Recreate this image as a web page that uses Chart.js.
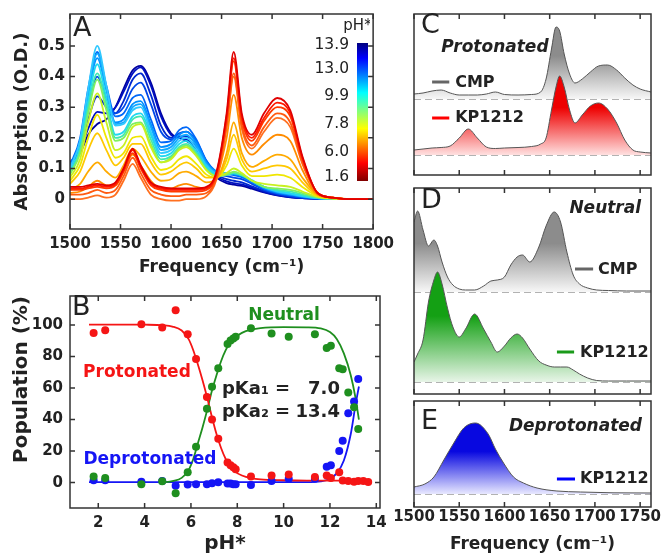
<!DOCTYPE html>
<html>
<head>
<meta charset="utf-8">
<script src="https://cdn.jsdelivr.net/npm/chart.js@4.4.0/dist/chart.umd.min.js"></script>
<style>
body { margin: 0; background: #fff; }
#wrap { position: relative; width: 667px; height: 556px; overflow: hidden; }
canvas { position: absolute; }
</style>
</head>
<body>
<div id="wrap">
<canvas id="cA" width="400" height="282" style="left:0;top:0"></canvas>
<canvas id="cBar" width="80" height="200" style="left:290px;top:0"></canvas>
<canvas id="cB" width="400" height="276" style="left:0;top:280px"></canvas>
<canvas id="cC" width="287" height="180" style="left:380px;top:0"></canvas>
<canvas id="cD" width="287" height="216" style="left:380px;top:180px"></canvas>
<canvas id="cE" width="287" height="160" style="left:380px;top:396px"></canvas>
</div>
<script>
// ---- panel A: spectra at each pH* (absorbance, O.D.) ----
const freq = [1500,1510,1518,1527,1536,1545,1553,1562,1570,1580,1590,1600,1608,1615,1625,1635,1645,1655,1662,1670,1680,1692,1705,1718,1730,1745,1760,1780,1800];

const abs_1_6  = [.04,.04,.045,.05,.045,.055,.10,.165,.11,.055,.04,.035,.035,.035,.035,.04,.09,.28,.48,.28,.21,.28,.33,.29,.14,.02,.005,0,0];
const abs_2_2  = [.035,.035,.04,.045,.04,.05,.095,.16,.105,.05,.035,.03,.03,.03,.03,.035,.085,.27,.46,.27,.20,.265,.315,.28,.135,.02,.005,0,0];
const abs_3_8  = [.03,.03,.035,.04,.035,.045,.09,.15,.10,.045,.03,.025,.025,.025,.025,.03,.08,.26,.45,.26,.19,.255,.30,.27,.13,.02,.005,0,0];
const abs_4_8  = [.015,.015,.02,.03,.02,.03,.075,.135,.085,.03,.015,.01,.01,.015,.015,.02,.07,.24,.41,.24,.175,.235,.28,.25,.12,.02,.005,0,0];
const abs_5_4  = [0,0,.005,.012,.005,.015,.06,.115,.07,.015,0,-.005,-.005,0,0,.01,.065,.235,.40,.23,.165,.22,.265,.235,.115,.02,.005,0,0];
const abs_6_0  = [.02,.025,.04,.06,.045,.045,.09,.145,.11,.06,.035,.035,.045,.05,.04,.035,.07,.20,.34,.20,.145,.18,.21,.19,.095,.015,.005,0,0];
const abs_6_4  = [.03,.05,.09,.12,.09,.07,.11,.165,.14,.09,.06,.065,.085,.09,.075,.055,.065,.15,.25,.15,.105,.125,.145,.13,.07,.015,.005,0,0];
const abs_6_9  = [.05,.09,.16,.215,.16,.11,.135,.18,.18,.12,.08,.09,.11,.12,.10,.07,.07,.13,.21,.13,.09,.10,.11,.10,.055,.012,.004,0,0];
const abs_7_1  = [.06,.11,.20,.275,.20,.135,.15,.20,.205,.14,.095,.105,.13,.14,.115,.08,.07,.11,.165,.11,.075,.075,.08,.07,.04,.01,.003,0,0];
const abs_7_4  = [.07,.13,.25,.345,.25,.16,.175,.235,.245,.17,.12,.13,.16,.17,.14,.095,.075,.085,.10,.085,.06,.05,.045,.04,.025,.008,.002,0,0];
const abs_7_9  = [.08,.15,.28,.39,.29,.19,.20,.245,.25,.18,.12,.135,.165,.175,.145,.095,.075,.08,.09,.08,.06,.04,.035,.03,.02,.006,.002,0,0];
const abs_8_2  = [.085,.16,.30,.41,.31,.20,.21,.26,.27,.195,.13,.14,.17,.18,.15,.10,.078,.08,.085,.078,.06,.04,.03,.025,.015,.005,.002,0,0];
const abs_8_9  = [.09,.17,.32,.44,.33,.21,.22,.27,.28,.21,.14,.15,.18,.19,.155,.105,.08,.08,.085,.078,.06,.04,.028,.02,.012,.004,.001,0,0];
const abs_9_9  = [.10,.19,.36,.50,.37,.24,.245,.29,.30,.22,.15,.16,.19,.20,.165,.11,.085,.085,.085,.08,.062,.04,.025,.018,.01,.003,.001,0,0];
const abs_10_7 = [.10,.19,.35,.475,.36,.245,.25,.30,.31,.235,.16,.17,.20,.21,.175,.115,.088,.085,.083,.078,.06,.038,.024,.016,.009,.003,.001,0,0];
const abs_11_9 = [.105,.19,.34,.46,.355,.25,.26,.31,.32,.245,.17,.18,.21,.22,.185,.12,.09,.085,.082,.076,.058,.036,.022,.015,.008,.003,.001,0,0];
const abs_12_5 = [.11,.20,.36,.48,.37,.27,.28,.33,.34,.26,.185,.19,.225,.235,.195,.125,.09,.082,.078,.072,.055,.034,.02,.013,.007,.002,.001,0,0];
const abs_13_0 = [.11,.18,.30,.40,.33,.28,.30,.36,.38,.31,.22,.195,.215,.22,.19,.125,.085,.075,.07,.065,.05,.03,.018,.01,.005,.002,0,0,0];
const abs_13_4 = [.115,.17,.26,.335,.30,.28,.32,.39,.41,.34,.24,.20,.205,.205,.18,.12,.08,.065,.06,.055,.042,.027,.015,.008,.004,.001,0,0,0];
const abs_13_7 = [.12,.16,.23,.285,.28,.30,.35,.41,.43,.37,.27,.21,.20,.195,.17,.115,.075,.058,.052,.048,.038,.024,.013,.007,.003,.001,0,0,0];
const abs_13_9 = [.12,.15,.21,.245,.26,.30,.36,.42,.435,.38,.28,.215,.20,.19,.165,.11,.07,.052,.047,.043,.034,.022,.012,.006,.003,.001,0,0,0];

const spectra = [abs_1_6, abs_2_2, abs_3_8, abs_4_8, abs_5_4, abs_6_0, abs_6_4, abs_6_9, abs_7_1, abs_7_4, abs_7_9,
                 abs_8_2, abs_8_9, abs_9_9, abs_10_7, abs_11_9, abs_12_5, abs_13_0, abs_13_4, abs_13_7, abs_13_9];
const spectraColors = ['#e00000','#ff1a00','#ff3a00','#ff5a10','#ff7020','#ff8c00','#ffaa00','#ffc800','#f0e600','#c8f020','#80f060',
                       '#40e8b0','#20d8f0','#30c8ff','#10a8ff','#0090ff','#0068f8','#0048e8','#0028d0','#0010c0','#0000a0'];

const freqTicksA = [1500,1550,1600,1650,1700,1750,1800];
const absTicks = [0,0.1,0.2,0.3,0.4,0.5];
const barTickLabels = ['1.6','6.0','7.8','9.9','13.0','13.9'];
const barTickPos = [0.029,0.21,0.413,0.616,0.81,0.985];

// ---- panel B: populations vs pH* ----
const phPoints = [1.8,2.3,3.86,4.76,5.34,5.86,6.22,6.69,6.91,7.18,7.58,7.71,7.83,7.93,8.59,9.48,10.22,11.35,11.86,12.04,12.4,12.55,12.79,13.04,13.22,13.44,13.65];
const protonated   = [95,96.7,100.4,98.4,109.3,94.2,78.4,54.4,40,27.8,12.8,11.1,9.7,8.5,3.9,4.5,5.2,3.5,4.5,2.9,6.6,1.4,1,0.5,1,1,0.4];
const neutral      = [3.9,2.9,-1,0.8,-6.8,6.6,22.7,46.8,60.8,72.6,88,90.1,91.5,92.6,97.9,94.6,92.6,94.2,85.4,86.8,72.6,72,57.1,47.8,34,null,null];
const deprotonated = [1.5,1.5,0.5,1,-2,-1.2,-1,-1,-0.4,0.3,-0.5,-0.6,-1,-1,-1.5,1,2.5,2.5,10,11,20,26.6,44,51.5,65.8,null,null];

const phFit = [1.6,3,4,4.8,5.2,5.6,5.9,6.1,6.3,6.5,6.7,6.9,7.1,7.3,7.5,7.7,7.9,8.2,8.6,9,10,11,11.6,12,12.3,12.6,12.9,13.1,13.25];
const protFit = [100.3,100.3,100.2,99.8,99,96.5,91,84,75,65,54,42,31,22,15,10,7,4.5,2.8,2,1.5,1.3,1.3,1.3,1.3,1.3,1.3,1.3,1.3];
const neutFit = [null,null,null,0,1,3,8,15,25,35,46,58,68,77,84,89,92,95,97,98,98.6,98.5,97.8,95.5,91,82,68,54,40];
const deprFit = [0.3,0.3,0.3,0.3,0.3,0.3,0.3,0.3,0.3,0.3,0.3,0.3,0.3,0.3,0.3,0.3,0.3,0.3,0.3,0.3,0.3,0.3,0.8,2.5,6,14,31,49,61];

const phTicks = [2,4,6,8,10,12,14];
const popTicks = [0,20,40,60,80,100];

// ---- panels C, D, E: component spectra (normalised, each trace above its own baseline) ----
const freqTicksR = [1500,1550,1600,1650,1700,1750];

const cFreq = [1500,1510,1520,1530,1540,1550,1560,1570,1580,1590,1600,1615,1630,1640,1646,1652,1657,1661,1666,1672,1678,1686,1695,1704,1714,1724,1733,1742,1750,1762];
const cKP   = [.05,.06,.07,.075,.09,.17,.26,.17,.08,.065,.07,.075,.085,.11,.17,.45,.68,.79,.68,.45,.32,.40,.49,.52,.46,.32,.15,.05,.03,.02];
const cCMP  = [.05,.06,.08,.09,.06,.04,.04,.04,.05,.07,.045,.04,.045,.07,.20,.50,.72,.68,.45,.25,.16,.20,.27,.33,.34,.29,.21,.14,.10,.07];

const dFreq = [1500,1504,1510,1516,1522,1526,1531,1537,1543,1550,1557,1567,1577,1585,1592,1600,1607,1614,1620,1628,1638,1646,1655,1662,1669,1676,1683,1692,1702,1715,1735,1762];
const dKP   = [.20,.28,.42,.80,1.02,1.10,.98,.74,.55,.45,.53,.68,.53,.40,.30,.36,.44,.48,.44,.33,.21,.17,.15,.15,.15,.12,.08,.04,.015,.01,.01,.01];
const dCMP  = [.70,.81,.62,.46,.52,.46,.30,.15,.07,.03,.02,.02,.06,.11,.12,.15,.27,.35,.37,.30,.45,.66,.80,.70,.40,.17,.08,.04,.02,.015,.01,.01];

const eFreq = [1500,1512,1522,1533,1544,1555,1568,1582,1590,1599,1610,1621,1636,1658,1684,1720,1762];
const eKP   = [.07,.10,.17,.34,.51,.66,.71,.60,.45,.31,.17,.11,.06,.03,.02,.012,.01];

const cmpOffsetC = 0.56;
const cmpOffsetD = 0.90;

// ---------------------------------------------------------------
Chart.defaults.font.family = 'DejaVu Sans';
Chart.defaults.color = '#222';
const tickFont = { family: 'DejaVu Sans', size: 15, weight: 'bold' };
const ink = '#222';
const noGrid = { display: false, drawTicks: false };

// box round the plot area with short inward ticks on every side
Chart.register({
  id: 'frame',
  afterDatasetsDraw(chart, args, opts) {
    const a = chart.chartArea, ctx = chart.ctx, len = 5;
    ctx.save();
    ctx.strokeStyle = '#333';
    ctx.lineWidth = 1.5;
    ctx.strokeRect(a.left, a.top, a.right - a.left, a.bottom - a.top);
    ctx.beginPath();
    if (opts.x) chart.scales.x.ticks.forEach(t => {
      const p = chart.scales.x.getPixelForValue(t.value);
      ctx.moveTo(p, a.bottom); ctx.lineTo(p, a.bottom - len);
      ctx.moveTo(p, a.top); ctx.lineTo(p, a.top + len);
    });
    if (opts.y) chart.scales.y.ticks.forEach(t => {
      const p = chart.scales.y.getPixelForValue(t.value);
      ctx.moveTo(a.left, p); ctx.lineTo(a.left + len, p);
      ctx.moveTo(a.right, p); ctx.lineTo(a.right - len, p);
    });
    ctx.stroke();
    ctx.restore();
  }
});

// text and legend glyphs placed in data coordinates
function notes(list) {
  return {
    id: 'notes',
    afterDraw(chart) {
      const ctx = chart.ctx, sx = chart.scales.x, sy = chart.scales.y;
      list.forEach(n => {
        ctx.save();
        const y = sy.getPixelForValue(n.y) + (n.dy || 0);
        if (n.line) {
          ctx.strokeStyle = n.color; ctx.lineWidth = 3;
          ctx.beginPath();
          ctx.moveTo(sx.getPixelForValue(n.line[0]), y);
          ctx.lineTo(sx.getPixelForValue(n.line[1]), y);
          ctx.stroke();
        } else {
          ctx.font = n.font;
          ctx.fillStyle = n.color || ink;
          ctx.textAlign = n.align || 'left';
          ctx.textBaseline = 'middle';
          ctx.fillText(n.text, sx.getPixelForValue(n.x) + (n.dx || 0), y);
        }
        ctx.restore();
      });
    }
  };
}

const setTicks = arr => s => { s.ticks = arr.map(v => ({ value: v })); };
const pts = (xs, ys, off = 0) => xs.map((x, i) => ({ x: x, y: ys[i] === null ? null : ys[i] + off }));

// ---- A ----
new Chart(document.getElementById('cA'), {
  type: 'line',
  data: {
    datasets: spectra.map((s, i) => ({
      data: pts(freq, s),
      borderColor: spectraColors[i],
      borderWidth: 1.8,
      pointRadius: 0,
      cubicInterpolationMode: 'monotone',
      fill: false
    }))
  },
  options: {
    responsive: false, animation: false, devicePixelRatio: 1,
    layout: { padding: { left: 0, right: 20, top: 13, bottom: 0 } },
    plugins: { legend: { display: false }, tooltip: { enabled: false }, frame: { x: true, y: true } },
    scales: {
      x: {
        type: 'linear', min: 1500, max: 1800,
        afterBuildTicks: setTicks(freqTicksA),
        ticks: { font: tickFont, color: ink, padding: 6, autoSkip: false, maxRotation: 0, callback: v => String(v) },
        grid: noGrid, border: { display: false },
        title: { display: true, text: 'Frequency (cm⁻¹)', font: { size: 17, weight: 'bold' }, color: ink, padding: { top: 0, bottom: 4 } },
        afterFit: s => { s.height = 282 - 229; }
      },
      y: {
        min: -0.0974, max: 0.604,
        afterBuildTicks: setTicks(absTicks),
        ticks: { font: tickFont, color: ink, padding: 5, callback: v => v === 0 ? '0' : v.toFixed(1) },
        grid: noGrid, border: { display: false },
        title: { display: true, text: 'Absorption (O.D.)', font: { size: 18, weight: 'bold' }, color: ink, padding: { top: 12, bottom: 0 } },
        afterFit: s => { s.width = 70; }
      }
    }
  },
  plugins: [notes([
    { text: 'A', x: 1502.9, y: 0.555, font: '27px DejaVu Sans' }
  ])]
});

// ---- colour bar of panel A ----
new Chart(document.getElementById('cBar'), {
  type: 'bar',
  data: {
    labels: ['pH*'],
    datasets: [{
      data: [[0, 1]],
      borderWidth: 0,
      barPercentage: 1, categoryPercentage: 1,
      backgroundColor: c => {
        const a = c.chart.chartArea;
        if (!a) return '#888';
        const g = c.chart.ctx.createLinearGradient(0, a.top, 0, a.bottom);
        g.addColorStop(0, '#00007f'); g.addColorStop(0.11, '#0000ff'); g.addColorStop(0.36, '#00ffff');
        g.addColorStop(0.62, '#ffff00'); g.addColorStop(0.87, '#ff0000'); g.addColorStop(1, '#800000');
        return g;
      }
    }]
  },
  options: {
    responsive: false, animation: false, devicePixelRatio: 1,
    layout: { padding: { left: 0, right: 2, top: 43, bottom: 0 } },
    plugins: { legend: { display: false }, tooltip: { enabled: false }, frame: false },
    scales: {
      x: { ticks: { display: false }, grid: noGrid, border: { display: false }, afterFit: s => { s.height = 19; } },
      y: {
        min: 0, max: 1,
        afterBuildTicks: setTicks(barTickPos),
        ticks: { font: { size: 15.5 }, color: ink, padding: 8, callback: (v, i) => barTickLabels[i] },
        grid: noGrid, border: { display: false },
        afterFit: s => { s.width = 67; }
      }
    }
  },
  plugins: [notes([
    { text: 'pH*', x: 0, y: 1.12, dx: -5, font: '15px DejaVu Sans', align: 'center' }
  ])]
});

// ---- B ----
const red = '#f51515', green = '#1f8f1f', blue = '#1515f5';
const dots = (ys, col) => ({ data: pts(phPoints, ys), showLine: false, pointRadius: 4, pointBorderWidth: 0, backgroundColor: col, borderColor: col });
const fit = (ys, col) => ({ data: pts(phFit, ys), showLine: true, pointRadius: 0, borderWidth: 1.8, borderColor: col, cubicInterpolationMode: 'monotone', fill: false });

new Chart(document.getElementById('cB'), {
  type: 'scatter',
  data: {
    datasets: [
      dots(protonated, red), dots(neutral, green), dots(deprotonated, blue),
      fit(protFit, red), fit(neutFit, green), fit(deprFit, blue)
    ]
  },
  options: {
    responsive: false, animation: false, devicePixelRatio: 1,
    layout: { padding: { left: 0, right: 20, top: 11, bottom: 0 } },
    plugins: { legend: { display: false }, tooltip: { enabled: false }, frame: { x: true, y: true } },
    scales: {
      x: {
        type: 'linear', min: 0.78, max: 14.16,
        afterBuildTicks: setTicks(phTicks),
        ticks: { font: tickFont, color: ink, padding: 6, autoSkip: false, maxRotation: 0, callback: v => String(v) },
        grid: noGrid, border: { display: false },
        title: { display: true, text: 'pH*', font: { size: 20, weight: 'bold' }, color: ink, padding: { top: 0, bottom: 0 } },
        afterFit: s => { s.height = 276 - 228; }
      },
      y: {
        min: -16.1, max: 118.4,
        afterBuildTicks: setTicks(popTicks),
        ticks: { font: tickFont, color: ink, padding: 7, callback: v => String(v) },
        grid: noGrid, border: { display: false },
        title: { display: true, text: 'Population (%)', align: 'end', font: { size: 20, weight: 'bold' }, color: ink, padding: { top: 10, bottom: 0 } },
        afterFit: s => { s.width = 70; }
      }
    }
  },
  plugins: [notes([
    { text: 'B', x: 0.87, y: 111, font: '27px DejaVu Sans' },
    { text: 'Neutral', x: 10.02, y: 106, font: 'bold 17px DejaVu Sans', color: green, align: 'center' },
    { text: 'Protonated', x: 3.67, y: 70, font: 'bold 17px DejaVu Sans', color: red, align: 'center' },
    { text: 'Deprotonated', x: 4.23, y: 14.5, font: 'bold 17px DejaVu Sans', color: blue, align: 'center' },
    { text: 'pKa₁ =', x: 7.34, y: 59.5, font: 'bold 18px DejaVu Sans' },
    { text: '7.0', x: 12.43, y: 59.5, font: 'bold 18px DejaVu Sans', align: 'right' },
    { text: 'pKa₂ =', x: 7.34, y: 44.6, font: 'bold 18px DejaVu Sans' },
    { text: '13.4', x: 12.43, y: 44.6, font: 'bold 18px DejaVu Sans', align: 'right' }
  ])]
});

// ---- C, D, E ----
function grad(top, bottom, topVal, baseVal) {
  return c => {
    const ch = c.chart;
    if (!ch.chartArea) return bottom;
    const y = ch.scales.y;
    const g = ch.ctx.createLinearGradient(0, y.getPixelForValue(topVal), 0, y.getPixelForValue(baseVal));
    g.addColorStop(0, top);
    g.addColorStop(0.4, top);
    g.addColorStop(1, bottom);
    return g;
  };
}
const trace = (xs, ys, off, top, bottom) => ({
  data: pts(xs, ys, off),
  borderColor: '#555', borderWidth: 1, pointRadius: 0,
  cubicInterpolationMode: 'monotone',
  fill: { value: off },
  backgroundColor: grad(top, bottom, off + Math.max(...ys), off)
});
const dash = v => ({
  data: [{ x: 1500, y: v }, { x: 1762, y: v }],
  borderColor: '#999', borderWidth: 1.5, borderDash: [7, 4], pointRadius: 0, fill: false
});

function rightPanel(id, h, top, bottom, yMin, yMax, datasets, list, showAxis) {
  return new Chart(document.getElementById(id), {
    type: 'line',
    data: { datasets: datasets },
    options: {
      responsive: false, animation: false, devicePixelRatio: 1,
      layout: { padding: { left: 0, right: 16, top: top, bottom: 0 } },
      plugins: { legend: { display: false }, tooltip: { enabled: false }, frame: { x: true, y: false } },
      scales: {
        x: {
          type: 'linear', min: 1500, max: 1762,
          afterBuildTicks: setTicks(freqTicksR),
          ticks: { display: showAxis, font: tickFont, color: ink, padding: 1, autoSkip: false, maxRotation: 0, minRotation: 0, callback: v => String(v) },
          grid: noGrid, border: { display: false },
          title: { display: showAxis, text: 'Frequency (cm⁻¹)', font: { size: 17, weight: 'bold' }, color: ink, padding: { top: 0, bottom: 1 } },
          afterFit: s => { s.height = h - bottom; }
        },
        y: {
          min: yMin, max: yMax,
          ticks: { display: false }, grid: noGrid, border: { display: false },
          afterFit: s => { s.width = 34; }
        }
      }
    },
    plugins: [notes(list)]
  });
}

const lab = 'bold 16px DejaVu Sans', tag = 'italic bold 17px DejaVu Sans', big = '27px DejaVu Sans';

rightPanel('cC', 180, 14, 175, -0.2, 1.41, [
  trace(cFreq, cKP, 0, '#ee0000', '#ffe0e0'),
  trace(cFreq, cCMP, cmpOffsetC, '#8c8c8c', '#f7f7f7'),
  dash(0), dash(cmpOffsetC)
], [
  { text: 'C', x: 1507.7, y: 1.29, font: big },
  { text: 'Protonated', x: 1589.5, y: 1.075, font: tag, align: 'center' },
  { line: [1520, 1539], y: 0.73, color: '#666' },
  { text: 'CMP', x: 1545.5, y: 0.725, font: lab },
  { line: [1520, 1539], y: 0.37, color: '#ff0000' },
  { text: 'KP1212', x: 1545.5, y: 0.37, font: lab }
], false);

rightPanel('cD', 216, 8, 214, -0.12, 1.94, [
  trace(dFreq, dKP, 0, '#14a014', '#e8f5e8'),
  trace(dFreq, dCMP, cmpOffsetD, '#8c8c8c', '#f7f7f7'),
  dash(0), dash(cmpOffsetD)
], [
  { text: 'D', x: 1507.7, y: 1.81, font: big },
  { text: 'Neutral', x: 1751, y: 1.735, font: tag, align: 'right' },
  { line: [1678, 1698], y: 1.13, color: '#666' },
  { text: 'CMP', x: 1703.5, y: 1.12, font: lab },
  { line: [1658, 1677], y: 0.30, color: '#1a9a1a' },
  { text: 'KP1212', x: 1683.5, y: 0.29, font: lab }
], false);

rightPanel('cE', 160, 5, 111, -0.13, 0.93, [
  trace(eFreq, eKP, 0, '#0808e0', '#e8e8ff'),
  dash(0)
], [
  { text: 'E', x: 1507.7, y: 0.72, font: big },
  { text: 'Deprotonated', x: 1752, y: 0.67, font: tag, align: 'right' },
  { line: [1658, 1678], y: 0.15, color: '#0000ff' },
  { text: 'KP1212', x: 1683.5, y: 0.15, font: lab }
], true);
</script>
</body>
</html>
